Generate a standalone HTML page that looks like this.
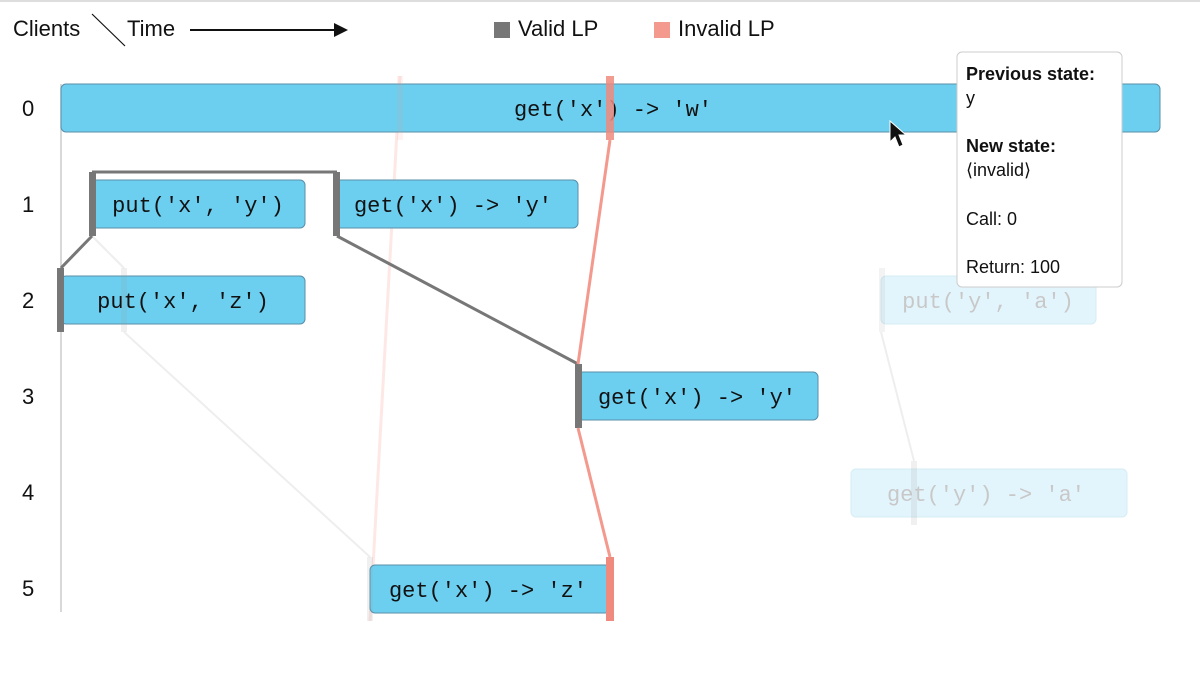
<!DOCTYPE html>
<html><head><meta charset="utf-8"><style>
html,body{margin:0;padding:0;background:#fff;width:1200px;height:679px;overflow:hidden}
svg{display:block}
.m{font-family:"Liberation Mono",monospace;font-size:22px;fill:#111}
.s{font-family:"Liberation Sans",sans-serif}
</style></head><body>
<svg width="1200" height="679" viewBox="0 0 1200 679">
<line x1="0" y1="1" x2="1200" y2="1" stroke="#ddd" stroke-width="2"/>
<text x="13" y="36" class="s" font-size="22" fill="#111">Clients</text>
<line x1="92" y1="14" x2="125" y2="46" stroke="#111" stroke-width="1.2"/>
<text x="127" y="36" class="s" font-size="22" fill="#111">Time</text>
<line x1="190" y1="30" x2="336" y2="30" stroke="#111" stroke-width="2"/>
<polygon points="348,30 334,23 334,37" fill="#111"/>
<rect x="494" y="22" width="16" height="16" fill="#777"/>
<text x="518" y="36" class="s" font-size="22" fill="#111">Valid LP</text>
<rect x="654" y="22" width="16" height="16" fill="#f4998d"/>
<text x="678" y="36" class="s" font-size="22" fill="#111">Invalid LP</text>

<g class="s" font-size="22" fill="#111">
<text x="22" y="116">0</text><text x="22" y="212">1</text><text x="22" y="308">2</text>
<text x="22" y="404">3</text><text x="22" y="500">4</text><text x="22" y="596">5</text>
</g>
<line x1="61" y1="84" x2="61" y2="612" stroke="#ccc" stroke-width="1.5"/>

<!-- faint lines -->
<line x1="400" y1="76" x2="370" y2="621" stroke="#fde8e5" stroke-width="3"/>
<line x1="124" y1="332" x2="370" y2="557" stroke="#eee" stroke-width="2"/>
<line x1="92" y1="236" x2="124" y2="268" stroke="#eee" stroke-width="2"/>
<line x1="881" y1="332" x2="914" y2="461" stroke="#eee" stroke-width="2"/>

<!-- boxes -->
<rect x="61" y="84" width="1099" height="48" rx="5" fill="#6ccff0" stroke="#5a8fa8" stroke-width="1"/>
<text x="613" y="116" class="m" text-anchor="middle">get('x') -&gt; 'w'</text>
<rect x="92" y="180" width="213" height="48" rx="5" fill="#6ccff0" stroke="#5a8fa8"/>
<text x="198" y="212" class="m" text-anchor="middle">put('x', 'y')</text>
<rect x="335" y="180" width="243" height="48" rx="5" fill="#6ccff0" stroke="#5a8fa8"/>
<text x="453" y="212" class="m" text-anchor="middle">get('x') -&gt; 'y'</text>
<rect x="61" y="276" width="244" height="48" rx="5" fill="#6ccff0" stroke="#5a8fa8"/>
<text x="183" y="308" class="m" text-anchor="middle">put('x', 'z')</text>
<rect x="578" y="372" width="240" height="48" rx="5" fill="#6ccff0" stroke="#5a8fa8"/>
<text x="697" y="404" class="m" text-anchor="middle">get('x') -&gt; 'y'</text>
<rect x="370" y="565" width="240" height="48" rx="5" fill="#6ccff0" stroke="#5a8fa8"/>
<text x="488" y="597" class="m" text-anchor="middle">get('x') -&gt; 'z'</text>
<rect x="881" y="276" width="215" height="48" rx="5" fill="#e3f5fc" stroke="#d6ecf4"/>
<text x="988" y="308" class="m" text-anchor="middle" fill="#c8c8c8" style="fill:#c8c8c8">put('y', 'a')</text>
<rect x="851" y="469" width="276" height="48" rx="5" fill="#e3f5fc" stroke="#d6ecf4"/>
<text x="986" y="501" class="m" text-anchor="middle" style="fill:#c8c8c8">get('y') -&gt; 'a'</text>

<!-- faint markers -->
<rect x="121" y="268" width="6" height="64" fill="#999" opacity="0.15"/>
<rect x="367" y="557" width="6" height="64" fill="#999" opacity="0.15"/>
<rect x="397" y="76" width="6" height="64" fill="#f4998d" opacity="0.12"/>
<rect x="879" y="268" width="6" height="64" fill="#999" opacity="0.12"/>
<rect x="911" y="461" width="6" height="64" fill="#999" opacity="0.15"/>

<!-- valid LP -->
<polyline points="92,172 337,172" fill="none" stroke="#777" stroke-width="3"/>
<line x1="92" y1="236" x2="61" y2="268" stroke="#777" stroke-width="3"/>
<line x1="337" y1="236" x2="578" y2="364" stroke="#777" stroke-width="3"/>
<rect x="89" y="172" width="7" height="64" fill="#777"/>
<rect x="333" y="172" width="7" height="64" fill="#777"/>
<rect x="57" y="268" width="7" height="64" fill="#777"/>
<rect x="575" y="364" width="7" height="64" fill="#777"/>

<!-- invalid LP -->
<line x1="610" y1="140" x2="578" y2="364" stroke="#f4998d" stroke-width="3"/>
<line x1="578" y1="428" x2="610" y2="557" stroke="#f4998d" stroke-width="3"/>
<rect x="606" y="76" width="8" height="64" fill="#f08a7e" opacity="0.85"/>
<rect x="606" y="557" width="8" height="64" fill="#f08a7e"/>

<!-- cursor -->
<polygon points="890,121 890,142 895,137 899,147 903,145 899,135 906,135" fill="#111" stroke="#fff" stroke-width="1"/>

<!-- tooltip -->
<rect x="957" y="52" width="165" height="235" rx="5" fill="#fff" stroke="#ccc"/>
<g class="s" font-size="18" fill="#111">
<text x="966" y="80" font-weight="bold">Previous state:</text>
<text x="966" y="104">y</text>
<text x="966" y="152" font-weight="bold">New state:</text>
<text x="966" y="176">⟨invalid⟩</text>
<text x="966" y="225">Call: 0</text>
<text x="966" y="273">Return: 100</text>
</g>
</svg>
</body></html>
